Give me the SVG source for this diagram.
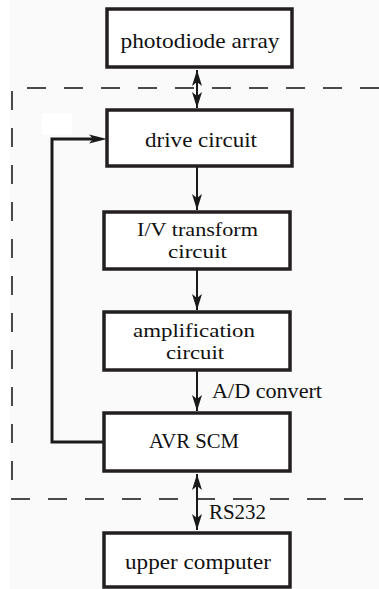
<svg xmlns="http://www.w3.org/2000/svg" width="379" height="589" viewBox="0 0 379 589">
<defs>
<marker id="ah" markerUnits="userSpaceOnUse" markerWidth="18" markerHeight="12" refX="16" refY="5" orient="auto-start-reverse" viewBox="0 0 18 10">
<path d="M0,0 L16,5 L0,10 L4,5 Z" fill="#1a1a1a"/>
</marker>
</defs>
<style>
.box{fill:#fff;stroke:#231f20;stroke-width:3.5}
.t{font-family:"Liberation Serif","Times New Roman",serif;font-size:21px;fill:#111;text-anchor:middle}
.t2{font-family:"Liberation Serif","Times New Roman",serif;font-size:19px;fill:#111;text-anchor:middle}
.lbl{font-family:"Liberation Serif","Times New Roman",serif;font-size:21px;fill:#111}
.c{fill:none;stroke:#1a1a1a;stroke-width:2}
.fb{fill:none;stroke:#1a1a1a;stroke-width:3}
.dash{fill:none;stroke:#4a4a4a;stroke-width:2;stroke-dasharray:19 18}
</style>
<rect x="0" y="0" width="379" height="589" fill="#fafafa"/>
<rect x="0" y="0" width="10" height="589" fill="#fff"/>
<rect x="42" y="113" width="30" height="22" fill="#fff"/>
<path class="dash" d="M379,88 H12 V499 H379"/>
<g id="connectors">
<line class="c" x1="197" y1="70" x2="197" y2="108" marker-start="url(#ah)" marker-end="url(#ah)"/>
<line class="c" x1="197" y1="167" x2="197" y2="210" marker-end="url(#ah)"/>
<line class="c" x1="197" y1="270" x2="197" y2="310" marker-end="url(#ah)"/>
<line class="c" x1="197" y1="371" x2="197" y2="411" marker-end="url(#ah)"/>
<line class="c" x1="197" y1="474" x2="197" y2="530" marker-start="url(#ah)" marker-end="url(#ah)"/>
<path class="fb" d="M104,442 H52 V139 H99"/>
<path d="M107,139 L89,134.5 L93,139 L89,143.5 Z" fill="#1a1a1a"/>
<text class="lbl" x="212" y="398" textLength="110" lengthAdjust="spacingAndGlyphs">A/D convert</text>
<text class="lbl" x="209" y="519" textLength="57" lengthAdjust="spacingAndGlyphs">RS232</text>
</g>
<g id="photodiode">
<rect class="box" x="107" y="9" width="185" height="58"/>
<text class="t" x="200" y="48" textLength="159" lengthAdjust="spacingAndGlyphs">photodiode array</text>
</g>
<g id="drive">
<rect class="box" x="107" y="110" width="185" height="56"/>
<text class="t" x="201" y="147" textLength="112" lengthAdjust="spacingAndGlyphs">drive circuit</text>
</g>
<g id="iv">
<rect class="box" x="104" y="212" width="186" height="57"/>
<text class="t2" x="197.5" y="236" textLength="121" lengthAdjust="spacingAndGlyphs">I/V transform</text>
<text class="t2" x="197.5" y="258" textLength="59" lengthAdjust="spacingAndGlyphs">circuit</text>
</g>
<g id="amp">
<rect class="box" x="104" y="312" width="186" height="58"/>
<text class="t2" x="194" y="337" textLength="122" lengthAdjust="spacingAndGlyphs">amplification</text>
<text class="t2" x="195" y="359" textLength="58" lengthAdjust="spacingAndGlyphs">circuit</text>
</g>
<g id="avr">
<rect class="box" x="104" y="413" width="186" height="58"/>
<text class="t" x="194" y="448" textLength="90" lengthAdjust="spacingAndGlyphs">AVR SCM</text>
</g>
<g id="upper">
<rect class="box" x="104" y="533" width="186" height="54"/>
<text class="t" x="198" y="569" textLength="146" lengthAdjust="spacingAndGlyphs">upper computer</text>
</g>
</svg>
